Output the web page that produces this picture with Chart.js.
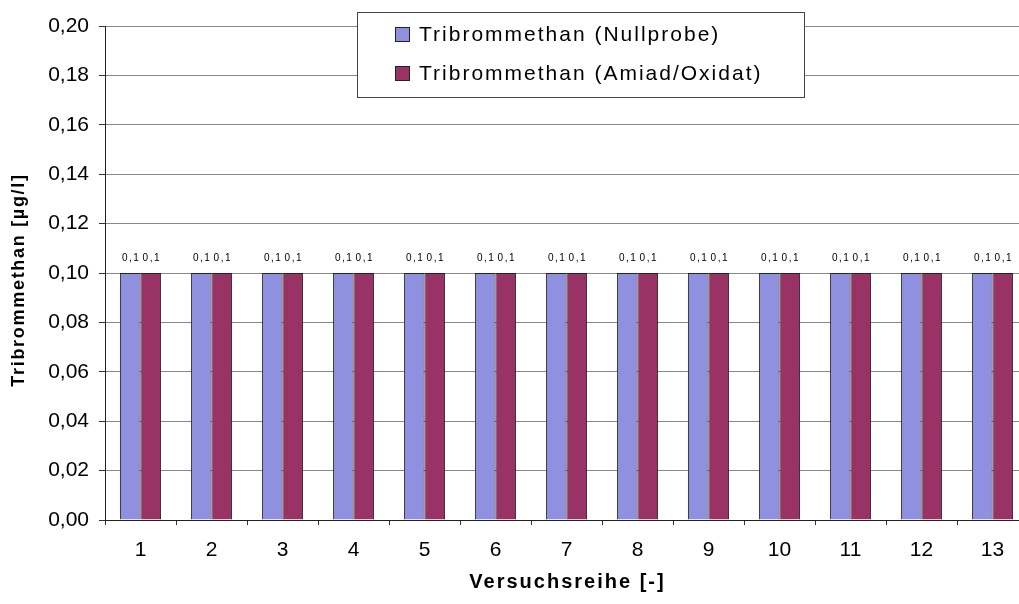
<!DOCTYPE html>
<html lang="de">
<head>
  <meta charset="utf-8">
  <title>Tribrommethan</title>
  <script src="https://cdn.jsdelivr.net/npm/chart.js@4"></script>
  <style>
    html, body { margin: 0; padding: 0; background: #fff; overflow: hidden; }
    #holder { width: 1028px; height: 604px; }
  </style>
</head>
<body>
<div id="holder"><canvas id="chart"></canvas></div>
<script>
  var versuche = ['1', '2', '3', '4', '5', '6', '7', '8', '9', '10', '11', '12', '13'];
  var nullprobe = [0.1, 0.1, 0.1, 0.1, 0.1, 0.1, 0.1, 0.1, 0.1, 0.1, 0.1, 0.1, 0.1];
  var amiadOxidat = [0.1, 0.1, 0.1, 0.1, 0.1, 0.1, 0.1, 0.1, 0.1, 0.1, 0.1, 0.1, 0.1];
  var seriesNames = ['Tribrommethan (Nullprobe)', 'Tribrommethan (Amiad/Oxidat)'];
  var seriesColors = ['#9090e0', '#993366'];
  var xTitle = 'Versuchsreihe [-]';
  var yTitle = 'Tribrommethan [µg/l]';

  var FONT = 'Arial, "Liberation Sans", sans-serif';
  var fmt = function (v, d) { return v.toFixed(d).replace('.', ','); };

  // kleine Werte ueber den Balken
  var valueLabels = {
    id: 'valueLabels',
    afterDatasetsDraw: function (chart) {
      var ctx = chart.ctx;
      ctx.save();
      ctx.font = '10px ' + FONT;
      ctx.letterSpacing = '1.5px';
      ctx.fillStyle = '#000';
      ctx.textAlign = 'center';
      ctx.textBaseline = 'middle';
      chart.data.datasets.forEach(function (ds, i) {
        chart.getDatasetMeta(i).data.forEach(function (bar, j) {
          ctx.fillText(fmt(ds.data[j], 1), bar.x + 1, bar.y - 15);
        });
      });
      ctx.restore();
    }
  };

  // Achsentitel (gesperrt, wie im Original)
  var axisTitles = {
    id: 'axisTitles',
    afterDraw: function (chart) {
      var ctx = chart.ctx, a = chart.chartArea;
      ctx.save();
      ctx.fillStyle = '#000';
      ctx.textAlign = 'center';
      ctx.textBaseline = 'middle';
      ctx.font = 'bold 20px ' + FONT;
      ctx.letterSpacing = '2px';
      ctx.fillText(xTitle, (a.left + a.right) / 2 + 1, 582);
      ctx.translate(19, 280);
      ctx.rotate(-Math.PI / 2);
      ctx.font = 'bold 18px ' + FONT;
      ctx.letterSpacing = '1.7px';
      ctx.fillText(yTitle, 0, 0);
      ctx.restore();
    }
  };

  // Legende als Kasten im Diagramm
  var boxLegend = {
    id: 'boxLegend',
    afterDraw: function (chart) {
      var ctx = chart.ctx;
      var x = 357, y = 12, w = 447, h = 85;
      ctx.save();
      ctx.fillStyle = '#fff';
      ctx.fillRect(x, y, w, h);
      ctx.strokeStyle = '#444';
      ctx.lineWidth = 1;
      ctx.strokeRect(x + 0.5, y + 0.5, w, h);
      ctx.font = '21px ' + FONT;
      ctx.letterSpacing = '2px';
      ctx.textBaseline = 'middle';
      chart.data.datasets.forEach(function (ds, i) {
        var cy = 34 + i * 39;
        ctx.fillStyle = ds.backgroundColor;
        ctx.fillRect(395, cy - 7, 15, 15);
        ctx.strokeStyle = '#222';
        ctx.strokeRect(395.5, cy - 6.5, 14, 14);
        ctx.fillStyle = '#000';
        ctx.fillText(ds.label, 419, cy + 1);
      });
      ctx.restore();
    }
  };

  var config = {
    type: 'bar',
    data: {
      labels: versuche,
      datasets: [{
        label: seriesNames[0],
        data: nullprobe,
        backgroundColor: seriesColors[0],
        borderColor: '#222',
        borderWidth: 1
      }, {
        label: seriesNames[1],
        data: amiadOxidat,
        backgroundColor: seriesColors[1],
        borderColor: '#222',
        borderWidth: 1
      }]
    },
    options: {
      responsive: true,
      maintainAspectRatio: false,
      animation: false,
      categoryPercentage: 0.58,
      barPercentage: 1,
      layout: {
        padding: { top: 26, right: 0, bottom: 0, left: 0 }
      },
      plugins: {
        legend: { display: false },
        tooltip: { enabled: false }
      },
      scales: {
        x: {
          afterFit: function (scale) { scale.height = 84; },
          grid: {
            drawOnChartArea: false,
            drawTicks: true,
            tickLength: 5,
            color: '#333'
          },
          border: { color: '#222' },
          ticks: {
            color: '#000',
            font: { family: FONT, size: 21 },
            padding: 13
          }
        },
        y: {
          min: 0,
          max: 0.2,
          afterFit: function (scale) { scale.width = 105; },
          grid: {
            color: '#888',
            tickLength: 6,
            tickColor: '#333'
          },
          border: { color: '#222' },
          ticks: {
            stepSize: 0.02,
            color: '#000',
            font: { family: FONT, size: 21 },
            padding: 10,
            callback: function (v) { return fmt(v, 2); }
          }
        }
      }
    },
    plugins: [valueLabels, axisTitles, boxLegend]
  };

  new Chart(document.getElementById('chart').getContext('2d'), config);
</script>
</body>
</html>
